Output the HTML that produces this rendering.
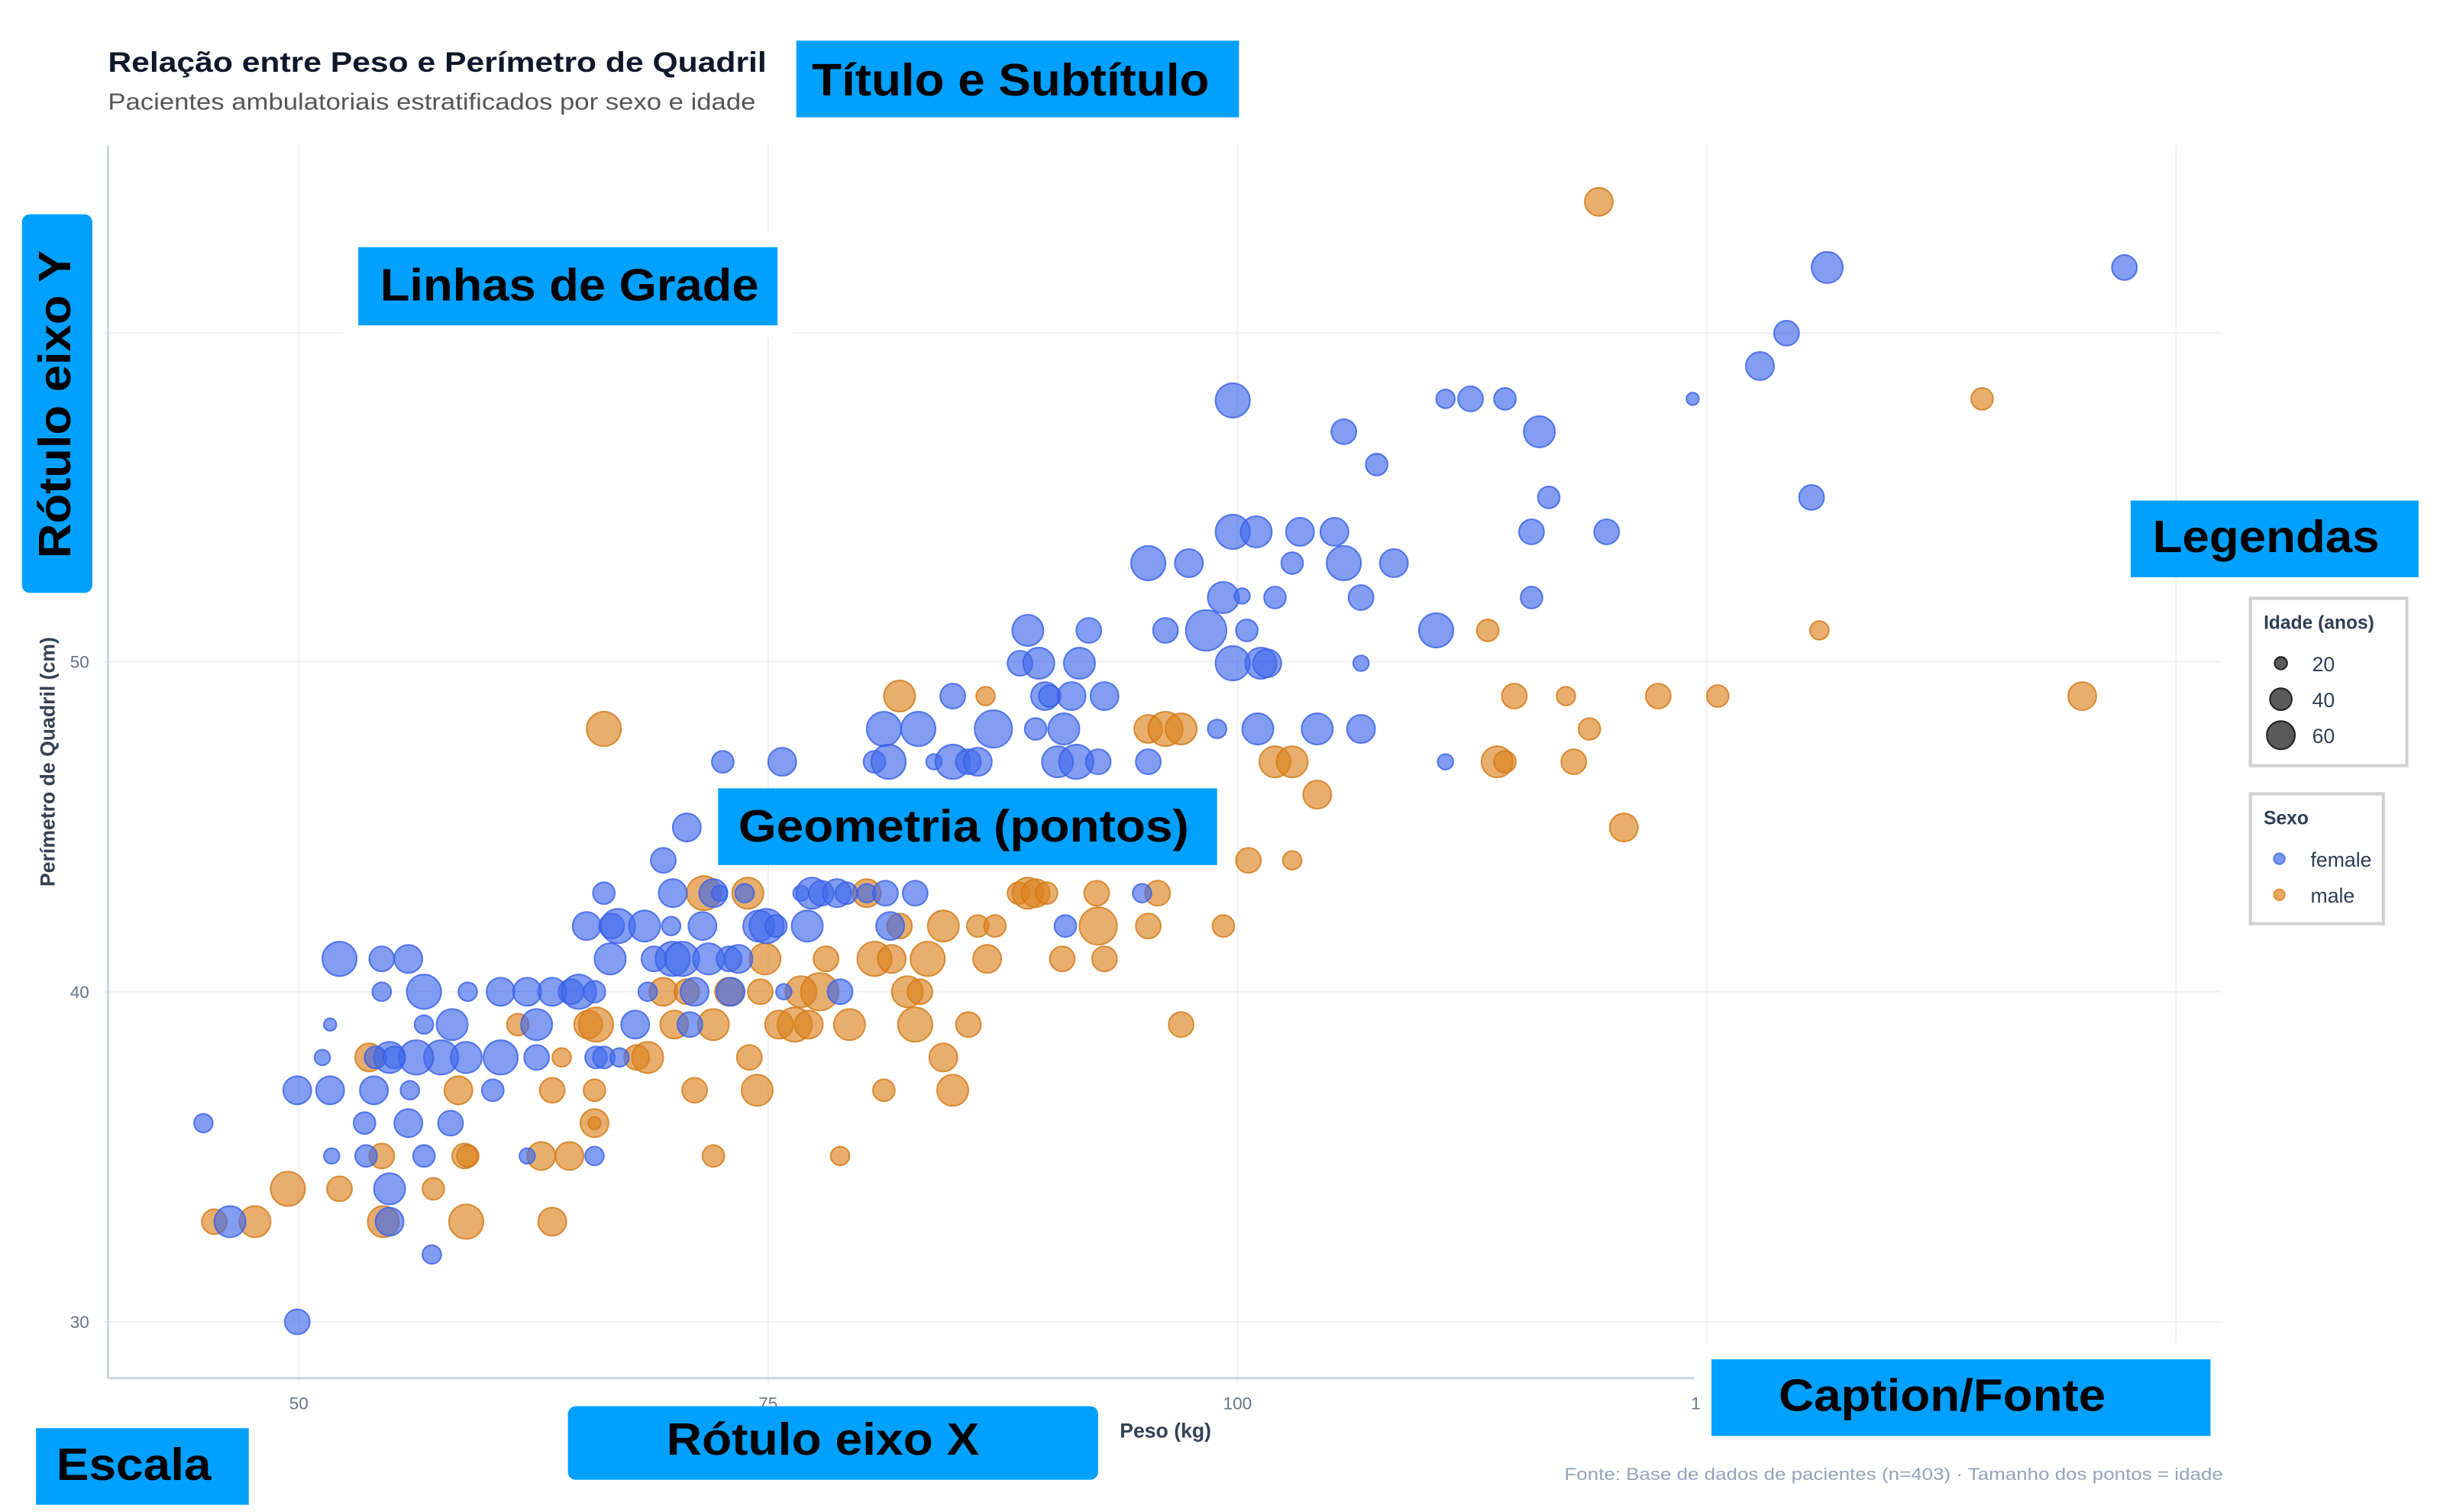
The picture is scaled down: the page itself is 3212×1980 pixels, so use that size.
<!DOCTYPE html>
<html><head><meta charset="utf-8"><style>html,body{margin:0;padding:0;background:#fff}svg{display:block}</style></head>
<body>
<svg xmlns="http://www.w3.org/2000/svg" width="3212" height="1980" viewBox="0 0 1568 966.6" font-family="Liberation Sans, sans-serif">
<rect width="1568" height="967" fill="#fff"/>
<!-- grid -->
<g stroke="#eef1f5" stroke-width="1">
<line x1="191" y1="93" x2="191" y2="885"/><line x1="491" y1="93" x2="491" y2="885"/><line x1="791" y1="93" x2="791" y2="885"/><line x1="1091" y1="93" x2="1091" y2="885"/><line x1="1391" y1="93" x2="1391" y2="885"/>
<line x1="66" y1="213" x2="1420" y2="213"/><line x1="66" y1="423" x2="1420" y2="423"/><line x1="66" y1="634" x2="1420" y2="634"/><line x1="66" y1="845" x2="1420" y2="845"/>
</g>
<rect x="219" y="149" width="288" height="67" fill="#fff"/>
<rect x="1083" y="859" width="340" height="72" fill="#fff"/>
<g stroke="#cbd5e1" stroke-width="1.5"><line x1="69" y1="93" x2="69" y2="881"/><line x1="69" y1="881" x2="1083" y2="881"/></g>
<!-- tick labels -->
<g font-size="11" fill="#64748b" text-anchor="end"><text x="57" y="849">30</text><text x="57" y="638">40</text><text x="57" y="427">50</text></g>
<g font-size="11" fill="#64748b" text-anchor="middle"><text x="191" y="901">50</text><text x="491" y="901">75</text><text x="791" y="901">100</text><text x="1084" y="901">1</text></g>
<text x="745" y="919" font-size="13" font-weight="bold" fill="#334155" text-anchor="middle">Peso (kg)</text>
<text transform="translate(35,487) rotate(-90)" font-size="13" font-weight="bold" fill="#334155" text-anchor="middle">Perímetro de Quadril (cm)</text>
<text x="69" y="46" font-size="18" font-weight="bold" fill="#0f172a" textLength="421" lengthAdjust="spacingAndGlyphs">Relação entre Peso e Perímetro de Quadril</text>
<text x="69" y="70" font-size="15" fill="#555" textLength="414" lengthAdjust="spacingAndGlyphs">Pacientes ambulatoriais estratificados por sexo e idade</text>
<text x="1421" y="946" font-size="11" fill="#94a3b8" text-anchor="end" textLength="421" lengthAdjust="spacingAndGlyphs">Fonte: Base de dados de pacientes (n=403) · Tamanho dos pontos = idade</text>
<!-- points -->
<g id="pts" stroke-width="1"></g>
<!-- legends -->
<rect x="1438.5" y="382.5" width="100" height="107" fill="#fff" stroke="#d0d0d0" stroke-width="2"/>
<text x="1447" y="402" font-size="12" font-weight="bold" fill="#2f3e55">Idade (anos)</text>
<g fill="#5a5a5a" stroke="#222" stroke-width="1"><circle cx="1458" cy="424" r="4"/><circle cx="1458" cy="447" r="7"/><circle cx="1458" cy="470" r="9"/></g>
<g font-size="13" fill="#2f3e55"><text x="1478" y="429">20</text><text x="1478" y="452">40</text><text x="1478" y="475">60</text></g>
<rect x="1438.5" y="507.5" width="85" height="83" fill="#fff" stroke="#d0d0d0" stroke-width="2"/>
<text x="1447" y="527" font-size="12" font-weight="bold" fill="#2f3e55">Sexo</text>
<circle cx="1457" cy="549" r="3.5" fill="rgba(65,105,235,0.7)" stroke="rgba(65,105,235,0.8)"/>
<circle cx="1457" cy="572" r="3.5" fill="rgba(220,130,30,0.7)" stroke="rgba(220,130,30,0.8)"/>
<g font-size="13" fill="#2f3e55"><text x="1477" y="554">female</text><text x="1477" y="577">male</text></g>
<!-- annotation boxes -->
<g fill="#00a0ff">
<rect x="509" y="26" width="283" height="49"/>
<rect x="229" y="158" width="268" height="50"/>
<rect x="14" y="137" width="45" height="242" rx="5"/>
<rect x="1362" y="320" width="184" height="49"/>
<rect x="459" y="504" width="319" height="49"/>
<rect x="1094" y="869" width="319" height="49"/>
<rect x="363" y="899" width="339" height="47" rx="5"/>
<rect x="23" y="913" width="136" height="49"/>
</g>
<g font-weight="bold" fill="#000" font-size="29">
<text x="519" y="61" textLength="254" lengthAdjust="spacingAndGlyphs">Título e Subtítulo</text>
<text x="243" y="192" textLength="242" lengthAdjust="spacingAndGlyphs">Linhas de Grade</text>
<text transform="translate(45,357) rotate(-90)" textLength="197" lengthAdjust="spacingAndGlyphs">Rótulo eixo Y</text>
<text x="1376" y="353" textLength="145" lengthAdjust="spacingAndGlyphs">Legendas</text>
<text x="472" y="538" textLength="288" lengthAdjust="spacingAndGlyphs">Geometria (pontos)</text>
<text x="1137" y="902" textLength="209" lengthAdjust="spacingAndGlyphs">Caption/Fonte</text>
<text x="426" y="930" textLength="200" lengthAdjust="spacingAndGlyphs">Rótulo eixo X</text>
<text x="36" y="946" textLength="99" lengthAdjust="spacingAndGlyphs">Escala</text>
</g>
<script>
var F=[[130,718,6],[147,781,10],[190,845,8],[190,697,9],[211,697,9],[212,739,5],[211,655,4],[206,676,5],[217,613,11],[244,613,8],[261,613,9],[244,634,6],[271,634,11],[233,718,7],[234,739,7],[239,697,9],[249,676,10],[249,760,10],[249,781,9],[261,718,9],[262,697,6],[288,718,8],[289,655,10],[271,655,6],[271,739,7],[276,802,6],[299,634,6],[298,676,10],[282,676,11],[266,676,11],[240,676,7],[252,676,7],[320,634,9],[315,697,7],[320,676,11],[337,634,9],[343,655,10],[343,676,8],[337,739,5],[353,634,9],[365,634,8],[370,634,11],[380,634,7],[375,592,9],[386,571,7],[391,592,8],[395,592,11],[390,613,10],[380,739,6],[381,676,7],[386,676,7],[396,676,6],[406,655,9],[412,592,10],[414,634,6],[418,613,8],[424,550,8],[430,613,11],[430,571,9],[429,592,6],[439,529,9],[436,613,11],[441,655,8],[444,634,9],[449,592,9],[453,613,10],[456,571,9],[460,571,5],[462,487,7],[467,634,9],[466,613,8],[472,613,9],[476,571,6],[485,592,10],[490,592,11],[496,592,7],[500,487,9],[501,634,5],[512,571,5],[516,592,10],[519,571,10],[525,571,8],[535,571,9],[537,634,8],[541,571,7],[554,571,6],[559,487,7],[565,466,11],[566,571,8],[568,487,11],[569,592,9],[585,571,8],[587,466,11],[597,487,5],[609,445,8],[609,487,11],[619,487,8],[625,487,9],[635,466,12],[652,424,8],[657,403,10],[662,466,7],[664,424,10],[668,445,9],[671,445,7],[676,487,10],[680,466,10],[681,592,7],[685,445,9],[688,487,11],[690,424,10],[696,403,8],[702,487,8],[706,445,9],[730,571,6],[734,487,8],[734,360,11],[745,403,8],[760,360,9],[771,403,13],[778,466,6],[782,382,10],[788,256,11],[788,340,11],[788,424,11],[797,403,7],[803,340,10],[804,466,10],[806,424,10],[810,424,9],[815,382,7],[826,360,7],[831,340,9],[842,466,10],[853,340,9],[859,276,8],[859,360,11],[870,382,8],[870,424,5],[870,466,9],[880,297,7],[891,360,9],[918,403,11],[924,255,6],[924,487,5],[940,255,8],[962,255,7],[984,276,10],[990,318,7],[979,340,8],[979,382,7],[1027,340,8],[1082,255,4],[1125,234,9],[1142,213,8],[1158,318,8],[1168,171,10],[1358,171,8],[794,381,5]];
var M=[[137,781,8],[163,781,10],[184,760,11],[217,760,8],[236,676,9],[244,739,8],[245,781,10],[277,760,7],[293,697,9],[298,781,11],[297,739,8],[299,739,7],[331,655,7],[346,739,9],[353,697,8],[353,781,9],[359,676,6],[364,739,9],[376,655,9],[380,697,7],[381,655,11],[380,718,9],[380,718,4],[386,466,11],[407,676,8],[414,676,10],[424,634,9],[431,655,9],[439,634,8],[444,697,8],[450,571,11],[456,655,10],[456,739,7],[466,634,9],[478,571,10],[479,676,8],[484,697,10],[486,634,8],[489,613,10],[498,655,9],[508,655,11],[512,634,10],[517,655,9],[524,634,12],[528,613,8],[537,739,6],[543,655,10],[554,571,9],[559,613,11],[565,697,7],[570,613,9],[575,445,10],[575,592,8],[580,634,10],[585,655,11],[588,634,8],[593,613,11],[603,592,10],[603,676,9],[609,697,10],[619,655,8],[625,592,7],[631,613,9],[630,445,6],[636,592,7],[651,571,7],[657,571,10],[662,571,9],[669,571,7],[679,613,8],[701,571,8],[702,592,12],[706,613,8],[734,592,8],[734,466,9],[740,571,8],[745,466,11],[755,466,10],[755,655,8],[782,592,7],[798,550,8],[815,487,10],[826,487,10],[826,550,6],[842,508,9],[951,403,7],[957,487,10],[962,487,7],[968,445,8],[1001,445,6],[1006,487,8],[1016,466,7],[1022,129,9],[1038,529,9],[1060,445,8],[1098,445,7],[1163,403,6],[1267,255,7],[1331,445,9]];
var g=document.getElementById('pts'),ns='http://www.w3.org/2000/svg';
function add(a,f,s){a.forEach(function(p){var c=document.createElementNS(ns,'circle');c.setAttribute('cx',p[0]);c.setAttribute('cy',p[1]);c.setAttribute('r',p[2]);c.setAttribute('fill',f);c.setAttribute('stroke',s);g.appendChild(c);});}
add(M,'rgba(220,130,30,0.65)','rgba(210,120,20,0.8)');
add(F,'rgba(65,105,235,0.65)','rgba(55,95,230,0.8)');
</script>
</svg>
</body></html>
